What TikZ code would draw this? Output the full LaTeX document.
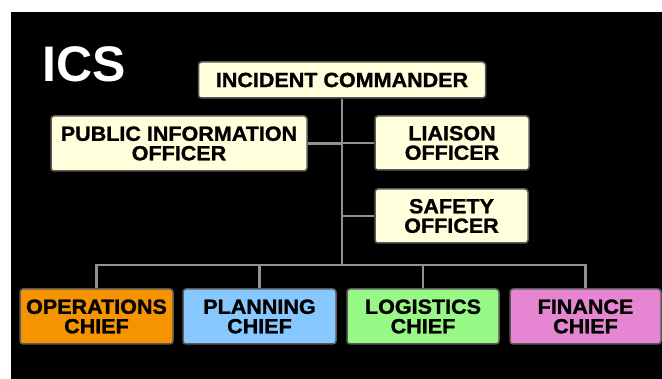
\documentclass[tikz,border=0pt]{standalone}
\usepackage{xcolor}
\usepackage{fontspec}
\setmainfont{Liberation Sans}
\newfontfamily\boxfont{Liberation Sans}[FakeStretch=1.05, FakeBold=1.2]
\usepackage{tikz}
\definecolor{CR}{HTML}{FFFFDC}
\definecolor{OP}{HTML}{F59300}
\definecolor{PL}{HTML}{86C8FF}
\definecolor{LG}{HTML}{98F886}
\definecolor{FN}{HTML}{E686D2}
\definecolor{LN}{HTML}{919191}
\definecolor{BD}{HTML}{5A5A5A}
\tikzset{
  box/.style={draw=BD, line width=1.5pt, rounded corners=3pt, align=center, inner sep=0pt, font=\boxfont\fontsize{20.5}{19.5}\selectfont\bfseries},
  link/.style={draw=LN, line width=2.2pt}
}

\begin{document}
\begin{tikzpicture}[x=1pt,y=1pt]%
\fill[white] (0,0) rectangle (662,379);%
\fill[black] (11,0) rectangle (662,367);%
\node[anchor=base west, text=white, inner sep=0pt, font=\fontsize{50}{50}\selectfont\bfseries] (title) at (42,297) {ICS};%
% command staff
\node[box, fill=CR, minimum width=287pt, minimum height=36pt] (ic) at (342,299) {INCIDENT COMMANDER};%
\node[box, fill=CR, minimum width=256pt, minimum height=55pt] (pio) at (179,235.5) {PUBLIC INFORMATION\\OFFICER};%
\node[box, fill=CR, minimum width=154pt, minimum height=54pt] (liaison) at (452,236) {LIAISON\\OFFICER};%
\node[box, fill=CR, minimum width=153pt, minimum height=54pt] (safety) at (451.5,163) {SAFETY\\OFFICER};%
% general staff
\node[box, fill=OP, minimum width=153pt, minimum height=55pt] (ops) at (96.5,62.5) {OPERATIONS\\CHIEF};%
\node[box, fill=PL, minimum width=153pt, minimum height=55pt] (plan) at (259.5,62.5) {PLANNING\\CHIEF};%
\node[box, fill=LG, minimum width=152pt, minimum height=55pt] (logi) at (423,62.5) {LOGISTICS\\CHIEF};%
\node[box, fill=FN, minimum width=151pt, minimum height=55pt] (fin) at (585.5,62.5) {FINANCE\\CHIEF};%
\coordinate (bar) at (342,114);%
\draw[link] (ic.south) -- (bar);%
\draw[link] (pio.east) -- (pio.east -| ic.south);%
\draw[link] (liaison.west) -- (liaison.west -| ic.south);%
\draw[link] (safety.west) -- (safety.west -| ic.south);%
\draw[link] (ops.north) -- (ops.north |- bar) -- (fin.north |- bar) -- (fin.north);%
\draw[link] (plan.north) -- (plan.north |- bar);%
\draw[link] (logi.north) -- (logi.north |- bar);%
\end{tikzpicture}
\end{document}
